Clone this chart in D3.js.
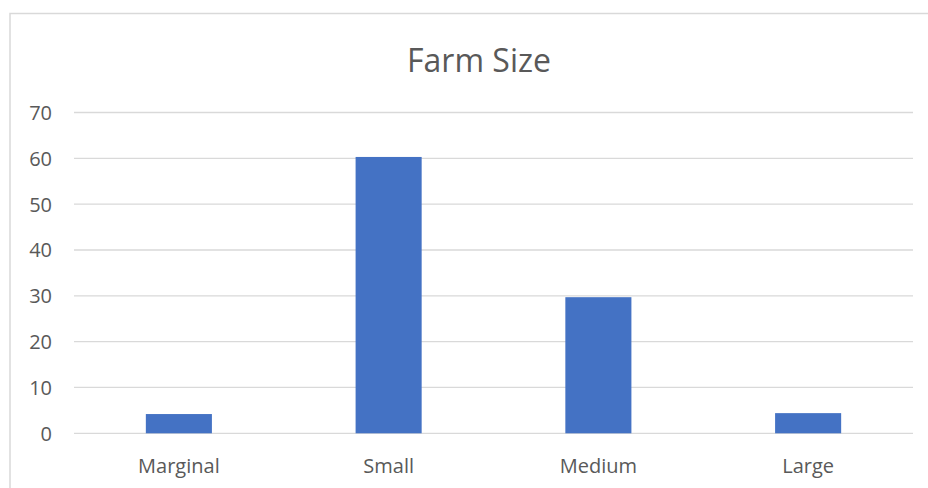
<!DOCTYPE html>
<html>
<head>
<meta charset="utf-8">
<script src="https://cdn.jsdelivr.net/npm/d3@7"></script>
<style>
  html, body { margin: 0; padding: 0; background: #fff; }
  svg { display: block; }
</style>
</head>
<body>
<svg id="chart" width="928" height="488"></svg>
<script>
const categories = ["Marginal", "Small", "Medium", "Large"];
const values = [4.2, 60.3, 29.7, 4.4];
const yTicks = [0, 10, 20, 30, 40, 50, 60, 70];
const title = "Farm Size";

const width = 928, height = 488;
const margin = { top: 112.5, right: 15, bottom: 55, left: 74 };
const font = "'Open Sans', sans-serif";

const svg = d3.select("#chart");

// chart frame
svg.append("rect")
  .attr("x", 10).attr("y", 13.5)
  .attr("width", width + 20).attr("height", height)
  .attr("fill", "#fff")
  .attr("stroke", "#d9d9d9").attr("stroke-width", 1.5);

const x = d3.scaleBand()
  .domain(categories)
  .range([margin.left, width - margin.right])
  .paddingInner(0.685)
  .paddingOuter(0.3425);

const y = d3.scaleLinear()
  .domain([0, 70])
  .range([433.3, margin.top]);

// gridlines
svg.append("g")
  .selectAll("line")
  .data(yTicks)
  .join("line")
  .attr("x1", margin.left).attr("x2", width - margin.right)
  .attr("y1", d => y(d)).attr("y2", d => y(d))
  .attr("stroke", "#d9d9d9").attr("stroke-width", 1.3);

// y axis labels
const yAxis = d3.axisLeft(y).tickValues(yTicks).tickSize(0).tickPadding(0);
svg.append("g")
  .attr("transform", `translate(52,0)`)
  .call(yAxis)
  .call(g => g.select(".domain").remove())
  .call(g => g.selectAll("text")
    .attr("font-family", font)
    .attr("font-size", 20)
    .attr("fill", "#595959")
    .attr("dy", "0.35em"));

// bars
svg.append("g")
  .selectAll("rect")
  .data(categories.map((c, i) => ({ c, v: values[i] })))
  .join("rect")
  .attr("x", d => x(d.c))
  .attr("width", x.bandwidth())
  .attr("y", d => y(d.v))
  .attr("height", d => y(0) - y(d.v))
  .attr("fill", "#4472c4");

// x axis labels
const xAxis = d3.axisBottom(x).tickSize(0).tickPadding(0);
svg.append("g")
  .attr("transform", `translate(0,${y(0)})`)
  .call(xAxis)
  .call(g => g.select(".domain").remove())
  .call(g => g.selectAll("text")
    .attr("font-family", font)
    .attr("font-size", 20)
    .attr("fill", "#595959")
    .attr("y", 39.5)
    .attr("dy", 0));

// title
svg.append("text")
  .attr("x", 479).attr("y", 72)
  .attr("text-anchor", "middle")
  .attr("font-family", font)
  .attr("font-size", 32)
  .attr("fill", "#595959")
  .text(title);
</script>
</body>
</html>
